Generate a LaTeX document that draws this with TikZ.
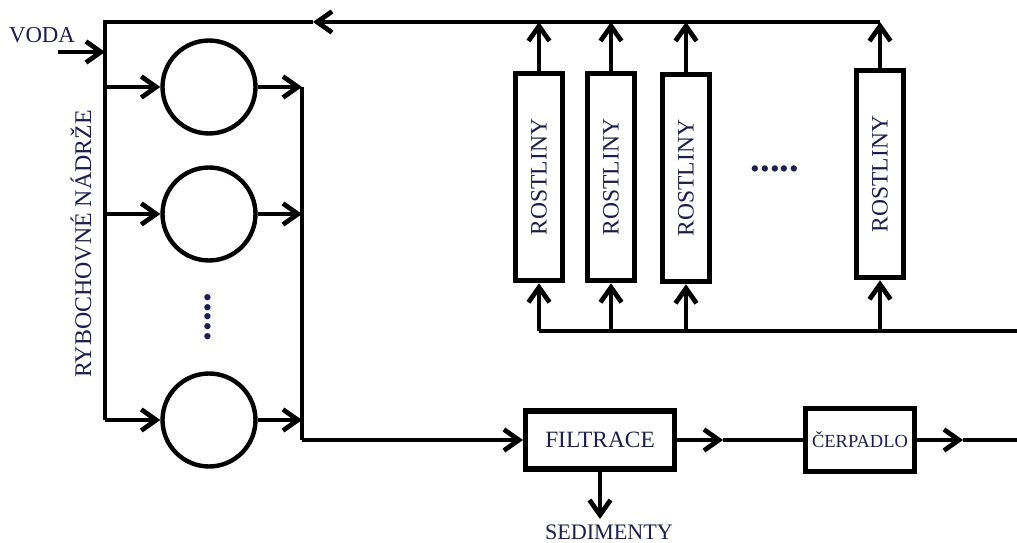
\documentclass[tikz,border=0pt]{standalone}
\usepackage{fontspec}
\setmainfont{Liberation Serif}
\usepackage{graphicx}
\usetikzlibrary{arrows.meta}
\definecolor{inktext}{RGB}{30,30,75}

\begin{document}
\begin{tikzpicture}[x=0.02cm, y=-0.02cm,
        every node/.style={text=inktext},
        pipe/.style={line width=2.7pt},
        flow/.style={line width=2.7pt, -{Straight Barb[length=8.5pt, width=12pt]}},
        tank/.style={draw=black, circle, line width=2.5pt, minimum size=1.86cm, inner sep=0pt},
        plant/.style={draw=black, rectangle, line width=2.9pt, minimum width=0.95cm, minimum height=4.15cm, inner sep=0pt, font=\fontsize{13.4}{15}\selectfont},
        unit/.style={draw=black, rectangle, line width=2.9pt, inner sep=0pt}]
    \useasboundingbox (0,0) rectangle (1017,543);

    \draw
        ( 42,  35) node[font=\fontsize{13}{15}\selectfont](voda){VODA}
        ( 81, 244) node[rotate=90, font=\fontsize{13.6}{16}\selectfont](nadrze){RYBOCHOVNÉ NÁDRŽE}
        (209,  87) node[tank](tank1){}
        (209, 214) node[tank](tank2){}
        (209, 420) node[tank](tankn){}
        (208, 317) node[rotate=90, font=\fontsize{22}{22}\bfseries](tankdots){.....}

        (539, 177) node[plant](rost1){\rotatebox{90}{ROSTLINY}}
        (611, 177) node[plant](rost2){\rotatebox{90}{ROSTLINY}}
        (686, 178) node[plant](rost3){\rotatebox{90}{ROSTLINY}}
        (880, 174) node[plant](rostn){\rotatebox{90}{ROSTLINY}}
        (775, 169) node[font=\fontsize{22}{22}\bfseries](rostdots){.....}

        (600, 440) node[unit, minimum width=2.98cm, minimum height=1.16cm, font=\fontsize{13.3}{15}\selectfont](filtrace){FILTRACE}
        (860, 440) node[unit, minimum width=2.18cm, minimum height=1.26cm, font=\fontsize{10.5}{12}\selectfont](cerpadlo){ČERPADLO}
        (609, 519) node[anchor=north, inner sep=3pt, font=\fontsize{12.6}{15}\selectfont](sedimenty){SEDIMENTY}
    ;

    % potrubi
    \coordinate (vodain)   at ( 58,  52);
    \coordinate (vodajoin) at (105,  52);
    \coordinate (lt)       at (105,  22);
    \coordinate (lb)       at (105, 420);
    \coordinate (topmid)   at (313,  22);
    \coordinate (rj1)      at (302,  87);
    \coordinate (rj2)      at (302, 214);
    \coordinate (rjn)      at (302, 420);
    \coordinate (rb)       at (302, 440);
    \coordinate (fmid)     at (723, 440);
    \coordinate (cmid)     at (963, 440);
    \coordinate (outlet)   at (1017, 440);
    \coordinate (plantin)  at (1017, 331);

    \draw [flow] (vodain) -- (vodajoin);
    \draw [flow] (rostn.north |- lt) -- (topmid);
    \draw [pipe] (topmid) -- (lt) -- (lb);
    \draw [flow] (vodajoin |- tank1) -- (tank1);
    \draw [flow] (vodajoin |- tank2) -- (tank2);
    \draw [flow] (lb) -- (tankn);
    \draw [flow] (tank1) -- (rj1);
    \draw [flow] (tank2) -- (rj2);
    \draw [flow] (tankn) -- (rjn);
    \draw [pipe] (rj1) -- (rb);
    \draw [flow] (rb) -- (filtrace);
    \draw [flow] (filtrace) -- (fmid);
    \draw [pipe] (fmid) -- (cerpadlo);
    \draw [flow] (cerpadlo) -- (cmid);
    \draw [pipe] (cmid) -- (outlet);
    \draw [flow] (filtrace.south) -- (filtrace.south |- sedimenty.north);

    \draw [flow] (rost1) -- (rost1.north |- lt);
    \draw [flow] (rost2) -- (rost2.north |- lt);
    \draw [flow] (rost3) -- (rost3.north |- lt);
    \draw [flow] (rostn) -- (rostn.north |- lt);
    \draw [pipe] (plantin) -- (rost1.south |- plantin);
    \draw [flow] (rost1.south |- plantin) -- (rost1);
    \draw [flow] (rost2.south |- plantin) -- (rost2);
    \draw [flow] (rost3.south |- plantin) -- (rost3);
    \draw [flow] (rostn.south |- plantin) -- (rostn);
\end{tikzpicture}
\end{document}
